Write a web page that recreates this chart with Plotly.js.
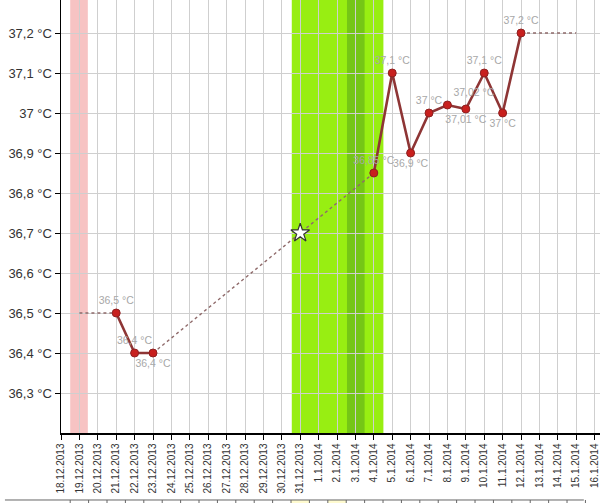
<!DOCTYPE html>
<html>
<head>
<meta charset="utf-8">
<script src="https://cdn.plot.ly/plotly-3.0.1.min.js"></script>
<style>html,body{margin:0;padding:0;background:#fff;}#chart{width:600px;height:503px;}</style>
</head>
<body>
<div id="chart"></div>
<script>
// Measured temperatures
const dates = ['2013-12-21','2013-12-22','2013-12-23','2014-01-04','2014-01-05','2014-01-06','2014-01-07','2014-01-08','2014-01-09','2014-01-10','2014-01-11','2014-01-12'];
const temps = [36.5, 36.4, 36.4, 36.85, 37.1, 36.9, 37.0, 37.02, 37.01, 37.1, 37.0, 37.2];
const tempLabels = ['36,5 °C','36,4 °C','36,4 °C','36,85 °C','37,1 °C','36,9 °C','37 °C','37,02 °C','37,01 °C','37,1 °C','37 °C','37,2 °C'];
const labelPos = ['top center','top center','bottom center','top center','top center','bottom center','top center','top right','bottom center','top center','bottom center','top center'];
// Gap between 23.12 and 4.1 (index of last point before gap)
const gapAfter = 2;
// Extension dates of the dotted lead/trail lines
const leadDate = '2013-12-19';
const trailDate = '2014-01-15';
// Star marker
const starDate = ['2013-12-31'];
const starTemp = [36.7];
// Bands
const pinkBand = ['2013-12-18 12:00','2013-12-19 11:00'];
const greenBand = ['2013-12-30 13:00','2014-01-04 12:30'];
const darkGreenBand = ['2014-01-02 13:00','2014-01-03 12:00'];
// Highlighted table cells
const yellowCells = ['2013-12-31','2014-01-02'];
// Axes
const yTickVals = [36.3, 36.4, 36.5, 36.6, 36.7, 36.8, 36.9, 37.0, 37.1, 37.2];
const yTickText = ['36,3 °C','36,4 °C','36,5 °C','36,6 °C','36,7 °C','36,8 °C','36,9 °C','37 °C','37,1 °C','37,2 °C'];
const xTickVals = ['2013-12-18','2013-12-19','2013-12-20','2013-12-21','2013-12-22','2013-12-23','2013-12-24','2013-12-25','2013-12-26','2013-12-27','2013-12-28','2013-12-29','2013-12-30','2013-12-31','2014-01-01','2014-01-02','2014-01-03','2014-01-04','2014-01-05','2014-01-06','2014-01-07','2014-01-08','2014-01-09','2014-01-10','2014-01-11','2014-01-12','2014-01-13','2014-01-14','2014-01-15','2014-01-16'];
const xTickText = ['18.12.2013','19.12.2013','20.12.2013','21.12.2013','22.12.2013','23.12.2013','24.12.2013','25.12.2013','26.12.2013','27.12.2013','28.12.2013','29.12.2013','30.12.2013','31.12.2013','1.1.2014','2.1.2014','3.1.2014','4.1.2014','5.1.2014','6.1.2014','7.1.2014','8.1.2014','9.1.2014','10.1.2014','11.1.2014','12.1.2014','13.1.2014','14.1.2014','15.1.2014','16.1.2014'];

const DAY = 86400000;
function shiftDate(d, days){ const t = new Date(d.replace(' ','T') + (d.length===10?'T00:00:00Z':':00Z')); const n = new Date(t.getTime()+days*DAY); return n.toISOString().slice(0,19).replace('T',' '); }

// solid trace with a gap
const solidX = [], solidY = [];
dates.forEach((d,i)=>{ solidX.push(d); solidY.push(temps[i]); if(i===gapAfter){ solidX.push(null); solidY.push(null);} });
const n = dates.length;
const dotX = [leadDate, dates[0], null, dates[gapAfter], dates[gapAfter+1], null, dates[n-1], trailDate];
const dotY = [temps[0], temps[0], null, temps[gapAfter], temps[gapAfter+1], null, temps[n-1], temps[n-1]];

const traces = [
  {x: dotX, y: dotY, mode:'lines', line:{color:'#8f6a6a', width:1.4, dash:'dot'}, connectgaps:false, hoverinfo:'skip'},
  {x: solidX, y: solidY, mode:'lines', line:{color:'#8e3535', width:2.6}, connectgaps:false, hoverinfo:'skip'},
  {x: dates, y: temps, mode:'markers+text', text: tempLabels, textposition: labelPos,
   textfont:{family:'Liberation Sans, Arial, sans-serif', size:10.5, color:'#a8a8a8'},
   marker:{color:'#c8201e', size:8, line:{color:'#8e2020', width:1}}},
  {x: starDate, y: starTemp, mode:'markers', marker:{symbol:'star', size:14, color:'#ffffff', line:{color:'#333333', width:1.2}}}
];

const shapes = [
  {type:'rect', xref:'x', yref:'paper', x0:pinkBand[0], x1:pinkBand[1], y0:0, y1:1, fillcolor:'#f7c3c3', line:{width:0}, layer:'below'},
  {type:'rect', xref:'x', yref:'paper', x0:greenBand[0], x1:greenBand[1], y0:0, y1:1, fillcolor:'#98ee12', line:{width:0}, layer:'below'},
  {type:'rect', xref:'x', yref:'paper', x0:darkGreenBand[0], x1:darkGreenBand[1], y0:0, y1:1, fillcolor:'#75c616', line:{width:0}, layer:'below'}
];
// table row below chart
const tableY = -0.1547;
yellowCells.forEach(c=>{
  shapes.push({type:'rect', xref:'x', yref:'paper', x0:shiftDate(c,-0.5), x1:shiftDate(c,0.5), y0:tableY, y1:-0.17, fillcolor:'#fffbd0', line:{width:0}});
});
shapes.push({type:'line', xref:'paper', yref:'paper', x0:-0.104, x1:0.97, y0:tableY, y1:tableY, line:{color:'#666', width:1}});
for(let i=0;i<xTickVals.length-1;i++){
  const xv = shiftDate(xTickVals[i], 0.5);
  shapes.push({type:'line', xref:'x', yref:'paper', x0:xv, x1:xv, y0:tableY, y1:-0.17, line:{color:'#666', width:1}});
}

const layout = {
  width:600, height:503,
  margin:{l:61, r:0, t:0, b:70},
  paper_bgcolor:'#ffffff', plot_bgcolor:'#ffffff',
  showlegend:false,
  font:{family:'Liberation Sans, Arial, sans-serif', color:'#333'},
  xaxis:{type:'date', range:['2013-12-18','2014-01-16 07:00'], tickvals:xTickVals, ticktext:xTickText,
    tickangle:-90, tickfont:{size:10, color:'#333'}, ticks:'outside', ticklen:5, tickcolor:'#000',
    showline:true, linecolor:'#000', linewidth:1.5, showgrid:true, gridcolor:'#cfcfcf', gridwidth:1, zeroline:false, fixedrange:true},
  yaxis:{range:[36.2, 37.2825], tickvals:yTickVals, ticktext:yTickText, tickfont:{size:13, color:'#333'},
    ticks:'outside', ticklen:5, tickcolor:'#000', showline:true, linecolor:'#000', linewidth:1.5,
    showgrid:true, gridcolor:'#cfcfcf', gridwidth:1, zeroline:false, fixedrange:true},
  shapes: shapes
};
Plotly.newPlot('chart', traces, layout, {displayModeBar:false, staticPlot:true});
</script>
</body>
</html>
